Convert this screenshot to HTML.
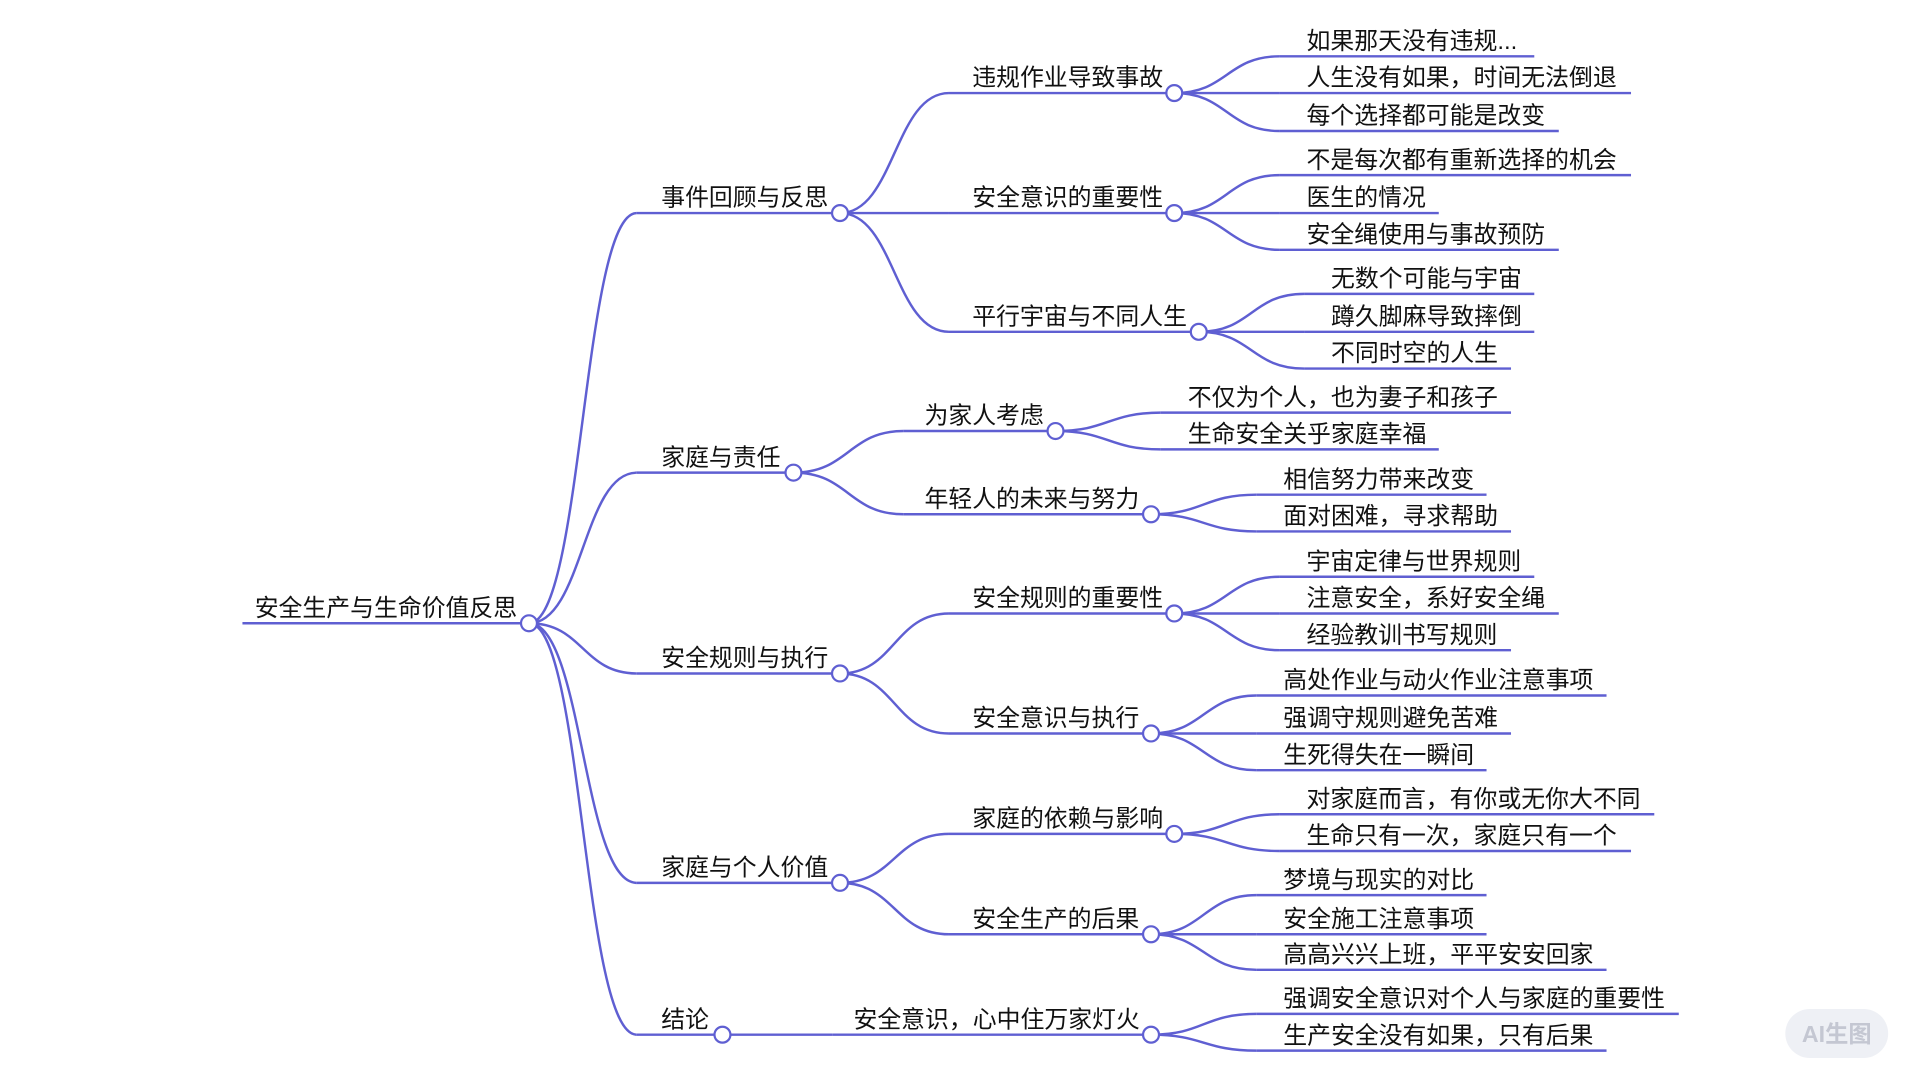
<!DOCTYPE html>
<html><head><meta charset="utf-8"><style>
html,body{margin:0;padding:0;background:#fff;width:1920px;height:1080px;overflow:hidden}
svg text{font-family:"Liberation Sans","Noto Sans CJK SC",sans-serif;font-size:19.5px;fill:#111}
</style></head><body>
<svg id="s" width="1920" height="1080" viewBox="0 0 1568 882" xmlns="http://www.w3.org/2000/svg">
<g id="g" fill="none" stroke="#5f5fd2" stroke-width="2"></g>
<g id="t"></g>
<g id="c" fill="#fff" stroke="#5f5fd2" stroke-width="1.8"></g>
<rect x="1458" y="824" width="84" height="40" rx="20" fill="#eef0f5"/>
<text x="1500" y="851" text-anchor="middle" style="fill:#c4c7d2;font-size:19px;font-weight:bold">AI生图</text>
</svg>
<script>
var N=[
["安全生产与生命价值反思",208,198,432,509,-1],
["事件回顾与反思",540,520,686,174,0],
["家庭与责任",540,520,648,386,0],
["安全规则与执行",540,520,686,550,0],
["家庭与个人价值",540,520,686,721,0],
["结论",540,520,590,845,0],
["违规作业导致事故",794,775,959,76,1],
["安全意识的重要性",794,775,959,174,1],
["平行宇宙与不同人生",794,775,979,271,1],
["为家人考虑",755,738,862,352,2],
["年轻人的未来与努力",755,738,940,420,2],
["安全规则的重要性",794,775,959,501,3],
["安全意识与执行",794,775,940,599,3],
["家庭的依赖与影响",794,775,959,681,4],
["安全生产的后果",794,775,940,763,4],
["安全意识，心中住万家灯火",697,680,940,845,5],
["如果那天没有违规...",1067,1045,1253,46,6,0],
["人生没有如果，时间无法倒退",1067,1045,1332,76,6,0],
["每个选择都可能是改变",1067,1045,1273,107,6,0],
["不是每次都有重新选择的机会",1067,1045,1332,143,7,0],
["医生的情况",1067,1045,1175,174,7,0],
["安全绳使用与事故预防",1067,1045,1273,204,7,0],
["无数个可能与宇宙",1087,1065,1253,240,8,0],
["蹲久脚麻导致摔倒",1087,1065,1253,271,8,0],
["不同时空的人生",1087,1065,1234,301,8,0],
["不仅为个人，也为妻子和孩子",970,948,1234,337,9,0],
["生命安全关乎家庭幸福",970,948,1175,367,9,0],
["相信努力带来改变",1048,1026,1214,404,10,0],
["面对困难，寻求帮助",1048,1026,1234,434,10,0],
["宇宙定律与世界规则",1067,1045,1253,471,11,0],
["注意安全，系好安全绳",1067,1045,1273,501,11,0],
["经验教训书写规则",1067,1045,1234,531,11,0],
["高处作业与动火作业注意事项",1048,1026,1312,568,12,0],
["强调守规则避免苦难",1048,1026,1234,599,12,0],
["生死得失在一瞬间",1048,1026,1214,629,12,0],
["对家庭而言，有你或无你大不同",1067,1045,1351,665,13,0],
["生命只有一次，家庭只有一个",1067,1045,1332,695,13,0],
["梦境与现实的对比",1048,1026,1214,731,14,0],
["安全施工注意事项",1048,1026,1214,763,14,0],
["高高兴兴上班，平平安安回家",1048,1026,1312,792,14,0],
["强调安全意识对个人与家庭的重要性",1048,1026,1371,828,15,0],
["生产安全没有如果，只有后果",1048,1026,1312,858,15,0]
];
var NS="http://www.w3.org/2000/svg",g=document.getElementById('g'),t=document.getElementById('t'),c=document.getElementById('c');
function el(p,n,a,txt){var e=document.createElementNS(NS,n);for(var k in a)e.setAttribute(k,a[k]);if(txt)e.textContent=txt;p.appendChild(e);return e;}
N.forEach(function(n){
  var y=n[4];
  el(g,'path',{d:'M'+n[2]+' '+y+'H'+n[3]});
  el(t,'text',{x:n[1],y:y-6},n[0]);
  if(n[5]>=0){var p=N[n[5]],px=p[3],py=p[4],sx=n[2],m=(sx-px)*0.5;
    el(g,'path',{d:'M'+px+' '+py+'C'+(px+m)+' '+py+' '+(sx-m)+' '+y+' '+sx+' '+y});}
});
N.forEach(function(n){if(n[6]!==0)el(c,'circle',{cx:n[3],cy:n[4],r:6.5});});
</script>
</body></html>
